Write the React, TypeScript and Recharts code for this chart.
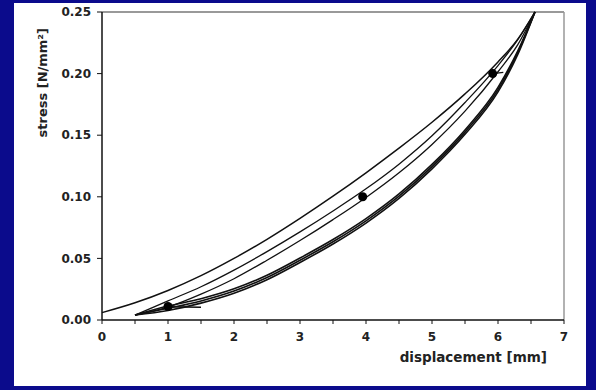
import React from "react";
import {
    ComposedChart,
    Line,
    Scatter,
    XAxis,
    YAxis,
    ReferenceLine,
    Label,
} from "recharts";

// displacement [mm] sample positions
const topX = [0, 0.5, 1, 1.5, 2, 2.5, 3, 3.5, 4, 4.5, 5, 5.5, 6, 6.3, 6.56];
const loopX = [0.5, 1, 1.5, 2, 2.5, 3, 3.5, 4, 4.5, 5, 5.5, 6, 6.3, 6.56];

// stress [N/mm²]
const firstLoading = [0.006, 0.014, 0.024, 0.036, 0.05, 0.0655, 0.0825, 0.1005, 0.1195, 0.1395, 0.1605, 0.1835, 0.2095, 0.228, 0.25];
const loadingUpper = [0.004, 0.0155, 0.027, 0.0405, 0.0555, 0.0715, 0.0885, 0.1065, 0.1265, 0.1495, 0.1765, 0.2065, 0.2275, 0.25];
const loadingLower = [0.004, 0.0105, 0.021, 0.0335, 0.0485, 0.0645, 0.0815, 0.0995, 0.1195, 0.1425, 0.1695, 0.2015, 0.2235, 0.25];
const unloadA = [0.004, 0.0113, 0.0173, 0.0253, 0.0363, 0.0503, 0.0653, 0.0823, 0.1023, 0.1263, 0.1543, 0.1888, 0.2185, 0.25];
const unloadB = [0.004, 0.0095, 0.0155, 0.0235, 0.0345, 0.0485, 0.0635, 0.0805, 0.1005, 0.1245, 0.1525, 0.187, 0.217, 0.25];
const unloadC = [0.004, 0.0077, 0.0137, 0.0217, 0.0327, 0.0467, 0.0617, 0.0787, 0.0987, 0.1227, 0.1507, 0.1852, 0.2155, 0.25];

// markers on the curves and their little arrow strokes
const markerX = [1.0, 3.95, 5.92];
const markerY = [0.011, 0.1, 0.2];
const arrowLow = [
    { x: 1.0, y: 0.0108 },
    { x: 1.5, y: 0.0103 },
];
const arrowHigh = [
    { x: 5.92, y: 0.2 },
    { x: 6.08, y: 0.201 },
];

const xTicks = [0, 0.5, 1, 1.5, 2, 2.5, 3, 3.5, 4, 4.5, 5, 5.5, 6, 6.5, 7];
const yTicks = [0, 0.05, 0.1, 0.15, 0.2, 0.25];

const toPoints = (xs: number[], ys: number[]) => xs.map((x, i) => ({ x, y: ys[i] }));

const curves = [
    { key: "first", data: toPoints(topX, firstLoading), width: 1.5 },
    { key: "loadUp", data: toPoints(loopX, loadingUpper), width: 1.3 },
    { key: "loadLow", data: toPoints(loopX, loadingLower), width: 1.3 },
    { key: "unA", data: toPoints(loopX, unloadA), width: 1.6 },
    { key: "unB", data: toPoints(loopX, unloadB), width: 1.6 },
    { key: "unC", data: toPoints(loopX, unloadC), width: 1.6 },
];

const markers = toPoints(markerX, markerY);

const tickStyle = { fontSize: 12, fill: "#222", fontWeight: 700 };

export default function App() {
    return (
        <div
            style={{
                position: "fixed",
                left: 0,
                top: 0,
                width: 596,
                height: 390,
                background: "#0b0b8c",
            }}
        >
            <div
                style={{
                    position: "absolute",
                    left: 14,
                    top: 3,
                    width: 572,
                    height: 383,
                    background: "#fff",
                    fontFamily: "'DejaVu Sans', sans-serif",
                    fontWeight: 700,
                }}
            >
                <ComposedChart
                    width={572}
                    height={383}
                    margin={{ top: 9, right: 22, bottom: 30, left: 28 }}
                >
                    <XAxis
                        type="number"
                        dataKey="x"
                        domain={[0, 7]}
                        ticks={xTicks}
                        tickFormatter={(v) => (Number.isInteger(v) ? String(v) : "")}
                        tick={tickStyle}
                        tickSize={4}
                        tickMargin={8}
                        height={36}
                        axisLine={{ stroke: "#111", strokeWidth: 1.5 }}
                        tickLine={{ stroke: "#111" }}
                        interval={0}
                    >
                        <Label
                            value="displacement [mm]"
                            position={{ x: 445, y: 42 }}
                            style={{ fontSize: 13.5, fill: "#222", fontWeight: 700 }}
                        />
                    </XAxis>
                    <YAxis
                        type="number"
                        domain={[0, 0.25]}
                        ticks={yTicks}
                        tickFormatter={(v) => Number(v).toFixed(2)}
                        tick={tickStyle}
                        tickSize={5}
                        tickMargin={6}
                        width={60}
                        axisLine={{ stroke: "#111", strokeWidth: 1.5 }}
                        tickLine={{ stroke: "#111" }}
                        interval={0}
                    >
                        <Label
                            value="stress [N/mm²]"
                            angle={-90}
                            position={{ x: 4.5, y: 16 }}
                            style={{ fontSize: 13, fill: "#222", fontWeight: 700 }}
                        />
                    </YAxis>
                    <ReferenceLine y={0.25} stroke="#999" strokeWidth={2} />
                    <ReferenceLine x={7} stroke="#999" strokeWidth={1.5} />
                    {curves.map((c) => (
                        <Line
                            key={c.key}
                            data={c.data}
                            dataKey="y"
                            type="monotone"
                            stroke="#111"
                            strokeWidth={c.width}
                            dot={false}
                            activeDot={false}
                            isAnimationActive={false}
                        />
                    ))}
                    <Line
                        data={arrowLow}
                        dataKey="y"
                        type="linear"
                        stroke="#111"
                        strokeWidth={1.4}
                        dot={false}
                        activeDot={false}
                        isAnimationActive={false}
                    />
                    <Line
                        data={arrowHigh}
                        dataKey="y"
                        type="linear"
                        stroke="#111"
                        strokeWidth={1.4}
                        dot={false}
                        activeDot={false}
                        isAnimationActive={false}
                    />
                    <Scatter
                        data={markers}
                        dataKey="y"
                        fill="#000"
                        isAnimationActive={false}
                    />
                </ComposedChart>
            </div>
        </div>
    );
}
